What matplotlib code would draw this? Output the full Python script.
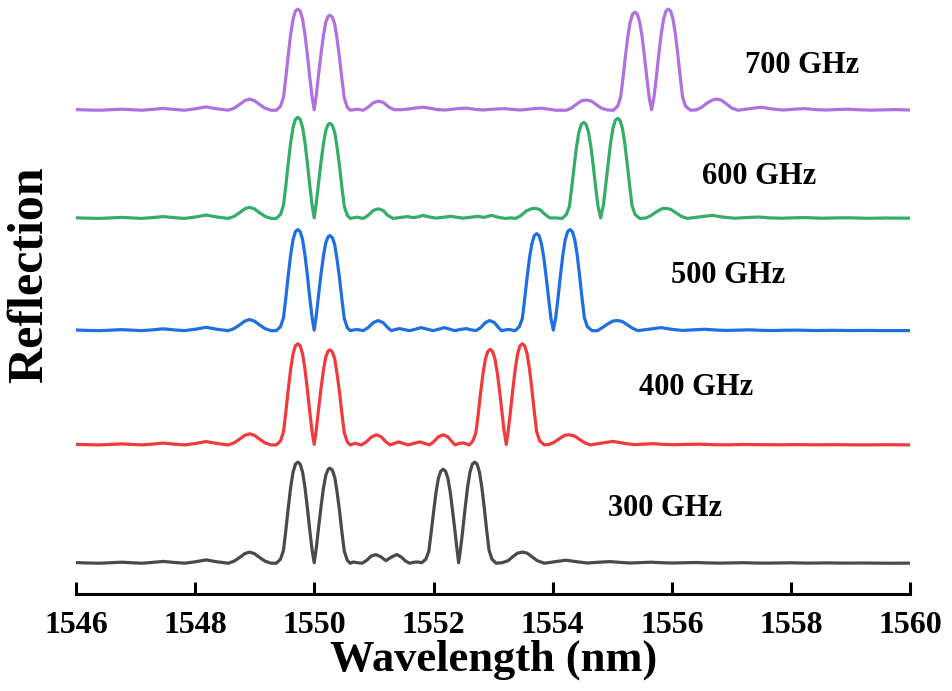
import matplotlib
matplotlib.use('Agg')
import matplotlib.pyplot as plt
import numpy as np

# wavelength (nm) / normalised reflection
# left side + first channel pair is the same for every spacing
common_wl = [1546.00, 1546.20, 1546.40, 1546.58, 1546.76, 1546.94, 1547.10, 1547.28, 1547.46,
             1547.64, 1547.82, 1548.00, 1548.18, 1548.36, 1548.55, 1548.65, 1548.75, 1548.83,
             1548.91, 1548.99, 1549.07, 1549.17, 1549.27, 1549.36, 1549.43, 1549.48, 1549.52,
             1549.56, 1549.60, 1549.64, 1549.68, 1549.72, 1549.76, 1549.80, 1549.84, 1549.88,
             1549.92, 1549.96, 1549.995, 1550.03, 1550.07, 1550.11, 1550.15, 1550.19, 1550.23,
             1550.26, 1550.30, 1550.34, 1550.38, 1550.42, 1550.46, 1550.50, 1550.55, 1550.60]
common_r = [0.006, 0.002, 0.0, 0.005, 0.01, 0.005, 0.0, 0.008, 0.018,
            0.008, 0.0, 0.014, 0.033, 0.014, 0.0, 0.02, 0.06, 0.095,
            0.11, 0.095, 0.06, 0.02, 0.0, 0.0, 0.04, 0.13, 0.33,
            0.55, 0.75, 0.90, 0.98, 1.0, 0.98, 0.90, 0.75, 0.55,
            0.33, 0.13, 0.005, 0.15, 0.36, 0.56, 0.74, 0.87, 0.93,
            0.94, 0.92, 0.85, 0.70, 0.52, 0.31, 0.12, 0.03, 0.0]

wl_300 = [1550.65, 1550.72, 1550.80, 1550.88, 1550.95, 1551.03, 1551.11, 1551.20, 1551.29,
          1551.38, 1551.46, 1551.53, 1551.60, 1551.67, 1551.74, 1551.80, 1551.87, 1551.92,
          1551.96, 1552.00, 1552.04, 1552.08, 1552.12, 1552.16, 1552.20, 1552.24, 1552.28,
          1552.32, 1552.36, 1552.39, 1552.42, 1552.45, 1552.49, 1552.53, 1552.57, 1552.61,
          1552.65, 1552.69, 1552.73, 1552.77, 1552.81, 1552.85, 1552.89, 1552.93, 1552.98,
          1553.05, 1553.15, 1553.25, 1553.33, 1553.41, 1553.49, 1553.57, 1553.65, 1553.74,
          1553.86, 1554.04, 1554.22, 1554.40, 1554.58, 1554.78, 1554.96, 1555.14, 1555.30,
          1555.47, 1555.65, 1555.83, 1556.00, 1556.20, 1556.40, 1556.60, 1556.80, 1557.00,
          1557.20, 1557.40, 1557.60, 1557.80, 1558.00, 1558.30, 1558.60, 1558.90, 1559.20,
          1559.60, 1560.00]
r_300 = [0.012, 0.005, 0.0, 0.03, 0.07, 0.085, 0.065, 0.025, 0.06,
         0.086, 0.06, 0.02, 0.0, 0.01, 0.012, 0.005, 0.04, 0.12,
         0.31, 0.51, 0.70, 0.84, 0.91, 0.93, 0.91, 0.84, 0.70,
         0.51, 0.31, 0.15, 0.005, 0.13, 0.33, 0.55, 0.75, 0.90,
         0.98, 1.0, 0.98, 0.90, 0.75, 0.55, 0.33, 0.13, 0.04,
         0.0, 0.005, 0.025, 0.065, 0.1, 0.11, 0.1, 0.065, 0.025,
         0.0, 0.015, 0.03, 0.015, 0.002, 0.01, 0.016, 0.008, 0.002,
         0.006, 0.01, 0.005, 0.002, 0.005, 0.007, 0.003, 0.001, 0.003,
         0.005, 0.002, 0.001, 0.003, 0.004, 0.001, 0.003, 0.001, 0.002,
         0.0, 0.001]

wl_400 = [1550.68, 1550.79, 1550.87, 1550.96, 1551.04, 1551.12, 1551.20, 1551.27, 1551.34,
          1551.41, 1551.49, 1551.57, 1551.67, 1551.77, 1551.85, 1551.93, 1552.00, 1552.08,
          1552.16, 1552.24, 1552.31, 1552.36, 1552.43, 1552.49, 1552.55, 1552.60, 1552.66,
          1552.71, 1552.75, 1552.79, 1552.83, 1552.87, 1552.91, 1552.95, 1552.99, 1553.03,
          1553.07, 1553.11, 1553.15, 1553.18, 1553.22, 1553.25, 1553.29, 1553.33, 1553.37,
          1553.41, 1553.45, 1553.49, 1553.53, 1553.57, 1553.61, 1553.65, 1553.69, 1553.73,
          1553.78, 1553.86, 1553.94, 1554.02, 1554.12, 1554.20, 1554.28, 1554.36, 1554.45,
          1554.54, 1554.63, 1554.82, 1555.01, 1555.20, 1555.37, 1555.53, 1555.69, 1555.86,
          1556.05, 1556.25, 1556.47, 1556.70, 1556.95, 1557.20, 1557.50, 1557.80, 1558.10,
          1558.40, 1558.80, 1559.20, 1559.60, 1560.00]
r_400 = [0.015, 0.0, 0.03, 0.08, 0.1, 0.08, 0.03, 0.0, 0.015,
         0.03, 0.015, 0.0, 0.015, 0.03, 0.015, 0.0, 0.03, 0.08,
         0.1, 0.08, 0.03, 0.0, 0.015, 0.02, 0.01, 0.0, 0.04,
         0.12, 0.31, 0.52, 0.71, 0.85, 0.925, 0.945, 0.925, 0.85,
         0.71, 0.52, 0.31, 0.15, 0.005, 0.13, 0.33, 0.55, 0.75,
         0.90, 0.98, 1.0, 0.98, 0.90, 0.75, 0.55, 0.33, 0.13,
         0.04, 0.0, 0.005, 0.025, 0.065, 0.095, 0.1, 0.09, 0.055,
         0.02, 0.0, 0.018, 0.035, 0.015, 0.003, 0.008, 0.012, 0.005,
         0.002, 0.005, 0.007, 0.002, 0.001, 0.004, 0.002, 0.001, 0.003,
         0.001, 0.002, 0.0, 0.002, 0.0]

wl_500 = [1550.71, 1550.82, 1550.90, 1550.99, 1551.07, 1551.15, 1551.23, 1551.29, 1551.36,
          1551.43, 1551.51, 1551.60, 1551.70, 1551.79, 1551.89, 1551.99, 1552.09, 1552.18,
          1552.27, 1552.35, 1552.45, 1552.55, 1552.63, 1552.71, 1552.79, 1552.87, 1552.94,
          1553.02, 1553.09, 1553.14, 1553.21, 1553.27, 1553.33, 1553.37, 1553.44, 1553.49,
          1553.53, 1553.57, 1553.61, 1553.65, 1553.69, 1553.73, 1553.77, 1553.81, 1553.85,
          1553.89, 1553.93, 1553.97, 1554.01, 1554.05, 1554.09, 1554.13, 1554.17, 1554.21,
          1554.25, 1554.29, 1554.33, 1554.37, 1554.41, 1554.45, 1554.49, 1554.53, 1554.58,
          1554.66, 1554.75, 1554.82, 1554.92, 1555.01, 1555.09, 1555.17, 1555.26, 1555.35,
          1555.43, 1555.62, 1555.82, 1556.00, 1556.18, 1556.36, 1556.55, 1556.74, 1556.92,
          1557.10, 1557.30, 1557.50, 1557.70, 1557.90, 1558.10, 1558.40, 1558.70, 1559.00,
          1559.30, 1559.60, 1560.00]
r_500 = [0.012, 0.0, 0.03, 0.08, 0.1, 0.08, 0.03, 0.0, 0.012,
         0.02, 0.01, 0.0, 0.015, 0.03, 0.015, 0.0, 0.015, 0.03,
         0.015, 0.0, 0.012, 0.02, 0.008, 0.0, 0.03, 0.08, 0.1,
         0.08, 0.03, 0.0, 0.008, 0.012, 0.004, 0.0, 0.04, 0.12,
         0.32, 0.53, 0.72, 0.86, 0.94, 0.96, 0.94, 0.86, 0.72,
         0.53, 0.32, 0.12, 0.005, 0.13, 0.33, 0.55, 0.75, 0.90,
         0.98, 1.0, 0.98, 0.90, 0.75, 0.55, 0.33, 0.13, 0.04,
         0.0, 0.0, 0.025, 0.065, 0.095, 0.1, 0.09, 0.055, 0.02,
         0.0, 0.015, 0.03, 0.013, 0.002, 0.008, 0.014, 0.006, 0.002,
         0.005, 0.008, 0.003, 0.001, 0.004, 0.005, 0.001, 0.003, 0.001,
         0.002, 0.0, 0.001]

wl_600 = [1550.71, 1550.82, 1550.90, 1550.99, 1551.07, 1551.15, 1551.23, 1551.32, 1551.45,
          1551.56, 1551.66, 1551.74, 1551.82, 1551.92, 1552.04, 1552.17, 1552.29, 1552.40,
          1552.50, 1552.62, 1552.74, 1552.85, 1552.97, 1553.08, 1553.20, 1553.30, 1553.38,
          1553.47, 1553.56, 1553.64, 1553.71, 1553.79, 1553.87, 1553.95, 1554.05, 1554.16,
          1554.23, 1554.28, 1554.32, 1554.36, 1554.40, 1554.44, 1554.48, 1554.52, 1554.56,
          1554.60, 1554.64, 1554.68, 1554.72, 1554.76, 1554.805, 1554.85, 1554.89, 1554.93,
          1554.97, 1555.01, 1555.05, 1555.09, 1555.13, 1555.17, 1555.21, 1555.25, 1555.29,
          1555.33, 1555.38, 1555.46, 1555.56, 1555.64, 1555.74, 1555.83, 1555.90, 1555.98,
          1556.07, 1556.16, 1556.26, 1556.47, 1556.68, 1556.87, 1557.05, 1557.25, 1557.45,
          1557.65, 1557.85, 1558.05, 1558.25, 1558.50, 1558.75, 1559.00, 1559.30, 1559.60,
          1560.00]
r_600 = [0.012, 0.0, 0.03, 0.08, 0.095, 0.08, 0.03, 0.0, 0.01,
         0.018, 0.008, 0.015, 0.03, 0.015, 0.003, 0.012, 0.02, 0.01,
         0.003, 0.012, 0.02, 0.01, 0.03, 0.012, 0.0, 0.005, 0.0,
         0.03, 0.075, 0.095, 0.1, 0.085, 0.04, 0.005, 0.005, 0.0,
         0.04, 0.12, 0.31, 0.52, 0.71, 0.855, 0.93, 0.95, 0.93,
         0.855, 0.71, 0.52, 0.31, 0.12, 0.005, 0.13, 0.33, 0.54,
         0.74, 0.89, 0.97, 0.99, 0.97, 0.89, 0.74, 0.54, 0.33,
         0.13, 0.04, 0.0, 0.003, 0.025, 0.065, 0.095, 0.1, 0.09,
         0.055, 0.02, 0.0, 0.015, 0.03, 0.012, 0.002, 0.008, 0.014,
         0.005, 0.002, 0.006, 0.008, 0.002, 0.005, 0.006, 0.001, 0.004,
         0.002]

wl_700 = [1550.71, 1550.82, 1550.90, 1550.99, 1551.08, 1551.16, 1551.25, 1551.34, 1551.46,
          1551.58, 1551.70, 1551.82, 1551.94, 1552.06, 1552.20, 1552.32, 1552.44, 1552.56,
          1552.68, 1552.82, 1552.96, 1553.08, 1553.20, 1553.32, 1553.45, 1553.57, 1553.69,
          1553.81, 1553.93, 1554.05, 1554.14, 1554.23, 1554.31, 1554.40, 1554.49, 1554.57,
          1554.65, 1554.73, 1554.82, 1554.92, 1555.02, 1555.09, 1555.14, 1555.18, 1555.22,
          1555.26, 1555.30, 1555.34, 1555.38, 1555.42, 1555.46, 1555.50, 1555.54, 1555.58,
          1555.62, 1555.66, 1555.70, 1555.74, 1555.78, 1555.82, 1555.86, 1555.90, 1555.94,
          1555.98, 1556.02, 1556.06, 1556.10, 1556.14, 1556.18, 1556.23, 1556.31, 1556.41,
          1556.49, 1556.59, 1556.68, 1556.75, 1556.83, 1556.92, 1557.01, 1557.11, 1557.31,
          1557.50, 1557.69, 1557.87, 1558.05, 1558.23, 1558.42, 1558.60, 1558.78, 1558.95,
          1559.15, 1559.35, 1559.55, 1559.75, 1560.00]
r_700 = [0.01, 0.0, 0.03, 0.075, 0.09, 0.075, 0.03, 0.005, 0.005,
         0.012, 0.022, 0.03, 0.02, 0.006, 0.002, 0.01, 0.018, 0.02,
         0.01, 0.002, 0.008, 0.013, 0.015, 0.008, 0.002, 0.008, 0.016,
         0.02, 0.01, 0.0, 0.0, 0.0, 0.02, 0.06, 0.095, 0.1,
         0.09, 0.055, 0.02, 0.002, 0.0, 0.04, 0.13, 0.32, 0.53,
         0.73, 0.87, 0.95, 0.97, 0.95, 0.87, 0.73, 0.53, 0.32,
         0.12, 0.005, 0.13, 0.33, 0.55, 0.75, 0.90, 0.98, 1.0,
         0.98, 0.90, 0.75, 0.55, 0.33, 0.13, 0.04, 0.0, 0.003,
         0.025, 0.07, 0.1, 0.11, 0.1, 0.06, 0.02, 0.0, 0.015,
         0.03, 0.012, 0.002, 0.01, 0.016, 0.006, 0.002, 0.007, 0.01,
         0.004, 0.001, 0.004, 0.006, 0.002]

labels = ['300 GHz', '400 GHz', '500 GHz', '600 GHz', '700 GHz']
series = [(wl_300, r_300), (wl_400, r_400), (wl_500, r_500), (wl_600, r_600), (wl_700, r_700)]

# layout / style
offsets = [0.0, 1.17, 2.30, 3.41, 4.48]
colors = ['#4a4a4a', '#f03a3c', '#1f6fe3', '#35ad68', '#b070e0']
label_pos = [(1555.88, 0.545), (1556.41, 1.74), (1556.95, 2.85), (1557.47, 3.82), (1558.19, 4.92)]

font = 'Liberation Serif'
fig = plt.figure(figsize=(9.53, 6.91), dpi=100)
ax = fig.add_axes([0.080, 0.140, 0.875, 0.860])

for (wl, r), off, c, lab, pos in zip(series, offsets, colors, labels, label_pos):
    x = np.array(common_wl + wl)
    y = np.array(common_r + r) + off
    ax.plot(x, y, color=c, lw=2.3, solid_joinstyle='round')
    ax.text(pos[0], pos[1], lab, ha='center', va='center', fontsize=22,
            fontweight='bold', family=font)

ax.set_xlim(1546, 1560)
ax.set_ylim(-0.307, 5.57)
ax.set_xticks(np.arange(1546, 1561, 2))
ax.set_yticks([])
for s in ['left', 'right', 'top']:
    ax.spines[s].set_visible(False)
ax.spines['bottom'].set_linewidth(2.2)
ax.tick_params(axis='x', direction='in', length=9, width=2.2, pad=12)
for t in ax.get_xticklabels():
    t.set_fontfamily(font)
    t.set_fontweight('bold')
    t.set_fontsize(23)
ax.set_xlabel('Wavelength (nm)', family=font, fontweight='bold', fontsize=32, labelpad=0)
fig.text(30 / 953, 1 - 275 / 691, 'Reflection', rotation=90, ha='center', va='center',
         family=font, fontweight='bold', fontsize=36)

fig.savefig('out.png', dpi=100)
